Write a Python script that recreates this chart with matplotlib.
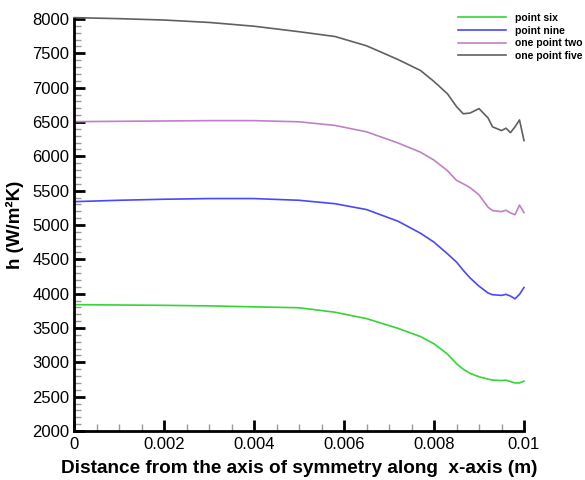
import matplotlib
matplotlib.use("Agg")
import matplotlib.pyplot as plt
from matplotlib.ticker import MultipleLocator, FuncFormatter

plt.rcParams['font.family'] = ['Liberation Sans', 'DejaVu Sans']

x = [0, 0.001, 0.002, 0.003, 0.004, 0.005, 0.0058, 0.0065, 0.0072, 0.0077, 0.008,
     0.0083, 0.0085, 0.00865, 0.0088, 0.009, 0.0092, 0.0093, 0.0095, 0.0096,
     0.0097, 0.0098, 0.0099, 0.01]

point_six = [3840, 3835, 3830, 3822, 3808, 3795, 3730, 3637, 3495, 3375, 3270,
             3120, 2980, 2900, 2840, 2790, 2755, 2742, 2735, 2740,
             2720, 2700, 2700, 2725]
point_nine = [5340, 5360, 5375, 5385, 5385, 5360, 5310, 5225, 5055, 4880, 4750,
              4580, 4460, 4340, 4230, 4110, 4010, 3985, 3975, 3990,
              3965, 3925, 3990, 4090]
one_point_two = [6505, 6510, 6515, 6520, 6520, 6503, 6450, 6357, 6195, 6060, 5945,
                 5790, 5650, 5600, 5545, 5440, 5260, 5210, 5195, 5215,
                 5175, 5150, 5290, 5180]
one_point_five = [8020, 8005, 7985, 7950, 7895, 7815, 7745, 7610, 7410, 7250, 7090,
                  6910, 6725, 6620, 6630, 6695, 6560, 6430, 6375, 6410,
                  6345, 6430, 6530, 6230]

labels = ['point six', 'point nine', 'one point two', 'one point five']
colors = ['#33d633', '#4848ff', '#c080c8', '#606060']
series = [point_six, point_nine, one_point_two, one_point_five]

fig = plt.figure(figsize=(5.85, 4.8), dpi=100)
ax = fig.add_axes([74/585, 49/480, 450/585, 412/480])

for s, c, l in zip(series, colors, labels):
    ax.plot(x, s, color=c, lw=1.2, label=l, clip_on=False, solid_joinstyle='round')

ax.set_xlim(0, 0.01)
ax.set_ylim(2000, 8000)
ax.xaxis.set_major_locator(MultipleLocator(0.002))
ax.xaxis.set_minor_locator(MultipleLocator(0.0005))
ax.yaxis.set_major_locator(MultipleLocator(500))
ax.yaxis.set_minor_locator(MultipleLocator(100))
ax.xaxis.set_major_formatter(FuncFormatter(lambda v, p: '0' if abs(v) < 1e-12 else ('%g' % round(v, 4))))

for side in ['top', 'right']:
    ax.spines[side].set_visible(False)
for side in ['left', 'bottom']:
    ax.spines[side].set_linewidth(2)

ax.tick_params(which='major', direction='in', length=8, width=2, labelsize=12, colors='black')
ax.tick_params(which='minor', direction='in', length=5, width=1, color='#999999')
ax.tick_params(axis='x', which='major', pad=4)

ax.set_xlabel('Distance from the axis of symmetry along  x-axis (m)', fontsize=13.7,
              fontweight='bold', labelpad=6)
ax.set_ylabel('h (W/m²K)', fontsize=13.5, fontweight='bold', labelpad=6)

leg = fig.legend(loc='upper left', bbox_to_anchor=(458/585, 1 - 13/480), frameon=False,
                 prop={'size': 7.5, 'weight': 'bold'}, handlelength=4.6,
                 labelspacing=0.25, handletextpad=0.9, borderaxespad=0.0, borderpad=0.0)

fig.savefig('out.png', dpi=100)
